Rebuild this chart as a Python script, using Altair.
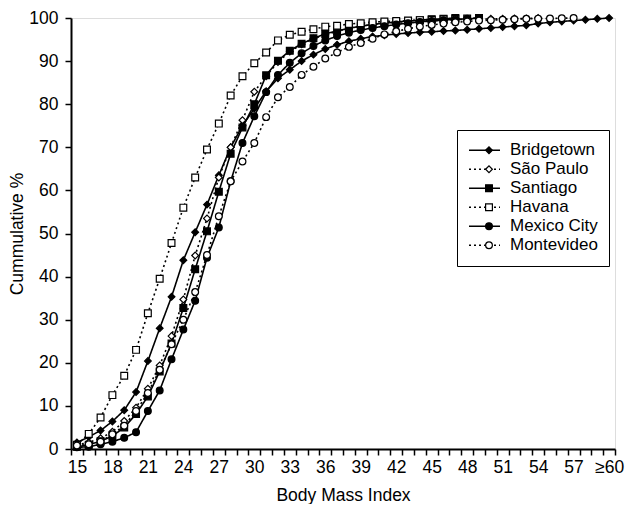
import json
import altair as alt
import pandas as pd

# ---------------- data ----------------
categories = [str(b) for b in range(15, 60)] + ["≥60"]
tick_labels = ["15", "18", "21", "24", "27", "30", "33", "36", "39", "42",
               "45", "48", "51", "54", "57", "≥60"]

cities = ["Bridgetown", "São Paulo", "Santiago", "Havana", "Mexico City", "Montevideo"]
line_codes = ["L0", "L1", "L2", "L3", "L4", "L5"]

bridgetown = [1.5, 2.8, 4.3, 6.4, 9.0, 13.2, 20.4, 28.0, 35.3, 43.8,
              50.3, 56.7, 63.5, 70.0, 75.0, 79.0, 83.0, 86.0, 88.0, 90.0,
              91.5, 92.8, 93.8, 94.6, 95.2, 95.7, 96.0, 96.3, 96.5, 96.7,
              96.8, 97.0, 97.1, 97.3, 97.5, 97.7, 97.9, 98.1, 98.3, 98.7,
              99.0, 99.2, 99.4, 99.6, 99.8, 100.0]
sao_paulo = [1.0, 1.5, 2.5, 4.0, 6.5, 9.6, 14.0, 19.4, 26.2, 34.7,
             44.9, 53.5, 63.0, 70.0, 76.3, 82.9, 86.5, 89.8, 92.2, 93.9,
             95.2, 96.1, 96.9, 97.6, 98.1, 98.5, 98.8, 99.0, 99.2, 99.3,
             99.4, 99.5, 99.6, 99.7, 99.7, 99.8, 99.8, 99.9, 99.9, 100.0]
santiago = [0.5, 1.0, 1.8, 3.0, 5.0, 8.1, 12.2, 18.0, 24.5, 32.7,
            41.7, 50.5, 59.7, 68.5, 74.6, 80.0, 86.7, 90.1, 92.4, 94.0,
            95.3, 96.3, 97.0, 97.6, 98.1, 98.5, 98.8, 99.1, 99.3, 99.5,
            99.7, 99.8, 100.0]
havana = [1.0, 3.5, 7.3, 12.5, 17.0, 23.0, 31.5, 39.5, 47.8, 56.0,
          63.0, 69.5, 75.5, 82.0, 86.5, 89.5, 92.0, 94.8, 96.1, 96.8,
          97.4, 98.0, 98.2, 98.6, 98.8, 99.0, 99.2, 99.3, 99.4, 99.5,
          99.6, 99.7, 99.8, 99.9, 100.0]
mexico_city = [0.4, 0.5, 1.1, 1.7, 2.6, 3.9, 8.8, 13.6, 20.8, 27.7,
               34.4, 44.4, 51.4, 62.1, 71.0, 77.2, 82.8, 86.8, 89.6, 91.8,
               93.5, 94.8, 95.8, 96.6, 97.2, 97.7, 98.1, 98.5, 98.8, 99.1,
               99.3, 99.5, 99.7, 99.8, 100.0]
montevideo = [0.8, 1.1, 1.7, 3.4, 5.4, 8.8, 13.0, 18.4, 24.3, 30.0,
              36.4, 45.0, 54.0, 62.1, 66.7, 71.0, 77.0, 81.6, 84.0, 86.8,
              88.7, 90.6, 92.0, 93.3, 94.2, 95.2, 96.2, 96.9, 97.5, 98.0,
              98.4, 98.7, 99.0, 99.2, 99.4, 99.5, 99.6, 99.7, 99.8, 99.85,
              99.9, 99.95, 100.0]

series = [bridgetown, sao_paulo, santiago, havana, mexico_city, montevideo]

rows = []
for city, code, vals in zip(cities, line_codes, series):
    for cat, v in zip(categories, vals):
        rows.append({"city": city, "series": code, "bmi": cat, "value": v})
df = pd.DataFrame(rows)

# ---------------- styles ----------------
dashes = [[1, 0], [2, 3], [1, 0], [2, 3], [1, 0], [2, 3]]
shapes = ["diamond", "diamond", "square", "square", "circle", "circle"]
fills = ["black", "white", "black", "white", "black", "white"]
strokes = ["black"] * 6

FONT = "Liberation Sans"
AX_FS = 17.5
LG_FS = 17
label_js = json.dumps(tick_labels)
code_names_js = json.dumps(dict(zip(line_codes, cities)))

x_enc = alt.X(
    "bmi:O",
    sort=categories,
    scale=alt.Scale(type="band", domain=categories, paddingInner=0, paddingOuter=0),
    axis=alt.Axis(
        title="Body Mass Index",
        labelExpr=f"indexof({label_js}, datum.label) >= 0 ? datum.label : ''",
        labelAngle=0,
        tickBand="extent",
        tickSize=6,
        tickWidth=1.5,
        tickColor="black",
        domainColor="black",
        domainWidth=2,
        labelFont=FONT,
        labelFontSize=AX_FS,
        labelColor="black",
        labelPadding=3,
        titleFont=FONT,
        titleFontSize=AX_FS,
        titleFontWeight="normal",
        titleColor="black",
        titlePadding=11,
    ),
)
y_enc = alt.Y(
    "value:Q",
    scale=alt.Scale(domain=[0, 100], nice=False),
    axis=alt.Axis(
        title="Cummulative %",
        values=[0, 10, 20, 30, 40, 50, 60, 70, 80, 90, 100],
        grid=False,
        tickSize=6,
        tickWidth=1.5,
        tickColor="black",
        domainColor="black",
        domainWidth=2,
        labelFont=FONT,
        labelFontSize=AX_FS,
        labelColor="black",
        labelPadding=7,
        titleFont=FONT,
        titleFontSize=AX_FS,
        titleFontWeight="normal",
        titleColor="black",
        titlePadding=2,
    ),
)

LX, LY = 386, 112
ROW_H = 18.5
LINE_SIZE = 961      # 31 px long legend line
PT_SIZE = 46

lines = alt.Chart(df).mark_line(color="black", strokeWidth=1.6).encode(
    x=x_enc,
    y=y_enc,
    strokeDash=alt.StrokeDash(
        "series:N",
        scale=alt.Scale(domain=line_codes, range=dashes),
        legend=alt.Legend(
            title=None, orient="none", legendX=LX, legendY=LY, columns=1,
            symbolType="stroke", symbolSize=LINE_SIZE, symbolStrokeColor="black",
            symbolStrokeWidth=1.6, clipHeight=ROW_H, rowPadding=0,
            labelExpr=f"{code_names_js}[datum.label]",
            labelFont=FONT, labelFontSize=LG_FS, labelColor="black", labelOffset=9,
            padding=11, strokeColor="black", fillColor="white", zindex=1,
        ),
    ),
)

pt_legend = alt.Legend(
    title=None, orient="none", legendX=LX + 12.5, legendY=LY, columns=1,
    symbolSize=PT_SIZE, symbolStrokeWidth=1.2,
    clipHeight=ROW_H, rowPadding=0,
    labelFont=FONT, labelFontSize=LG_FS, labelExpr="''", labelOffset=9,
    padding=11, zindex=2,
)

points = alt.Chart(df).mark_point(filled=True, strokeWidth=1.2, size=PT_SIZE, opacity=1).encode(
    x=x_enc,
    y=y_enc,
    shape=alt.Shape("city:N", scale=alt.Scale(domain=cities, range=shapes), legend=pt_legend),
    fill=alt.Fill("city:N", scale=alt.Scale(domain=cities, range=fills), legend=pt_legend),
    stroke=alt.Stroke("city:N", scale=alt.Scale(domain=cities, range=strokes), legend=pt_legend),
)

chart = alt.layer(lines, points).properties(
    width=544,
    height=431,
    autosize=alt.AutoSizeParams(type="none"),
    padding={"left": 63, "top": 10, "right": 16, "bottom": 55},
).configure_view(stroke=None).configure(background="white")

chart.save("out.html", embed_options={"renderer": "svg", "actions": False})
